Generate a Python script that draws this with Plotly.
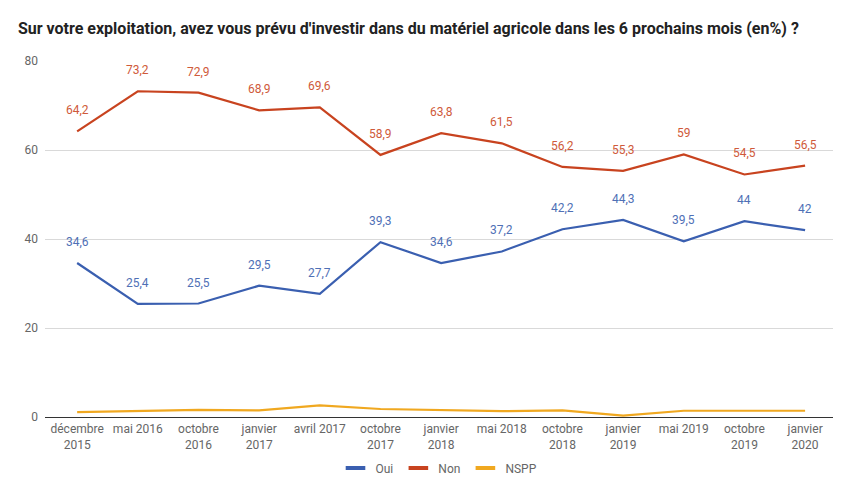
import plotly.graph_objects as go

categories = ["décembre<br>2015", "mai 2016", "octobre<br>2016", "janvier<br>2017", "avril 2017",
              "octobre<br>2017", "janvier<br>2018", "mai 2018", "octobre<br>2018", "janvier<br>2019",
              "mai 2019", "octobre<br>2019", "janvier<br>2020"]
oui = [34.6, 25.4, 25.5, 29.5, 27.7, 39.3, 34.6, 37.2, 42.2, 44.3, 39.5, 44.0, 42.0]
non = [64.2, 73.2, 72.9, 68.9, 69.6, 58.9, 63.8, 61.5, 56.2, 55.3, 59.0, 54.5, 56.5]
nspp = [1.1, 1.3, 1.6, 1.5, 2.6, 1.8, 1.5, 1.3, 1.5, 0.3, 1.4, 1.4, 1.4]

title = "Sur votre exploitation, avez vous prévu d'investir dans du matériel agricole dans les 6 prochains mois (en%) ?"

colors = {"Oui": "#3a5fb0", "Non": "#c8431f", "NSPP": "#f0a820"}
label_colors = {"Oui": "#4f70b6", "Non": "#cf5a3a"}

x = list(range(len(categories)))

fig = go.Figure()
for name, vals in [("Oui", oui), ("Non", non), ("NSPP", nspp)]:
    fig.add_trace(go.Scatter(x=x, y=vals, mode="lines", name=name, showlegend=False,
                             line=dict(color=colors[name], width=2.2), hoverinfo="skip"))
# legend entries with short line markers
for name in ["Oui", "Non", "NSPP"]:
    fig.add_trace(go.Scatter(x=[None], y=[None], mode="markers", name=name,
                             marker=dict(symbol="line-ew", size=14,
                                         line=dict(color=colors[name], width=4))))

def fmt(v):
    s = f"{v:.1f}".replace(".", ",")
    if s.endswith(",0"):
        s = s[:-2]
    return s

for name, vals in [("Oui", oui), ("Non", non)]:
    for xi, v in zip(x, vals):
        fig.add_annotation(x=xi, y=v, text=fmt(v), showarrow=False, yshift=21,
                           font=dict(family="Roboto", size=12, color=label_colors[name]))

fig.update_layout(
    width=854, height=502,
    margin=dict(l=45, r=21, t=61, b=85),
    paper_bgcolor="white", plot_bgcolor="white",
    title=dict(text="<b>" + title + "</b>", x=0.021, xanchor="left", y=0.944, yanchor="middle",
               font=dict(family="Roboto", size=16, color="#222")),
    xaxis=dict(tickmode="array", tickvals=x, ticktext=categories, range=[-0.53, 12.46],
               showgrid=False, zeroline=False, showline=False, ticks="",
               tickfont=dict(family="Roboto", size=12, color="#666"), ticklabelstandoff=3),
    yaxis=dict(range=[0, 80], tickvals=[0, 20, 40, 60, 80], showgrid=True, gridcolor="#d9d9d9",
               zeroline=True, zerolinecolor="#333", zerolinewidth=1, ticks="",
               tickfont=dict(family="Roboto", size=12, color="#666"), ticklabelstandoff=6),
    legend=dict(orientation="h", x=0.5, xanchor="center", y=-0.143, yanchor="middle",
                font=dict(family="Roboto", size=12, color="#666"), itemwidth=30),
    showlegend=True,
)

fig.write_html("out.html")
